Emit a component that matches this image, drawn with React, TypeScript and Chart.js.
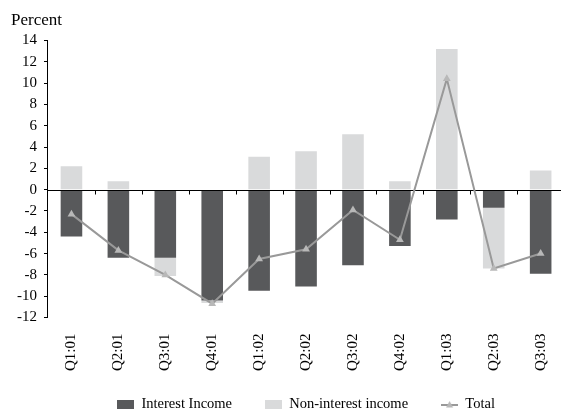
import React, { useEffect, useRef } from "react";
import { Chart, registerables } from "chart.js";

Chart.register(...registerables);

const categories = ["Q1:01", "Q2:01", "Q3:01", "Q4:01", "Q1:02", "Q2:02", "Q3:02", "Q4:02", "Q1:03", "Q2:03", "Q3:03"];
const interestIncome = [-4.4, -6.4, -6.4, -10.4, -9.5, -9.1, -7.1, -5.3, -2.8, -1.7, -7.9];
const nonInterestIncome = [2.2, 0.8, -1.7, -0.25, 3.1, 3.6, 5.2, 0.8, 13.2, -5.7, 1.8];
const total = [-2.3, -5.7, -8.0, -10.7, -6.5, -5.6, -1.9, -4.7, 10.4, -7.4, -6.0];
const seriesNames = ["Interest Income", "Non-interest income", "Total"];
const yTitle = "Percent";
const yMin = -12;
const yMax = 14;
const yStep = 2;

const W = 575;
const H = 440;
const FONT = "'Liberation Serif', 'Times New Roman', serif";
const DARK = "#58595b";
const LIGHT = "#d9dadb";
const LINE = "#999999";
const MARK = "#b8b8b8";

function makeBoxIcon(color: string) {
  const c = document.createElement("canvas");
  c.width = 17;
  c.height = 9;
  const x = c.getContext("2d")!;
  x.fillStyle = color;
  x.fillRect(0, 0, 17, 9);
  return c;
}

function makeLineIcon() {
  const c = document.createElement("canvas");
  c.width = 17;
  c.height = 9;
  const x = c.getContext("2d")!;
  x.strokeStyle = LINE;
  x.lineWidth = 2;
  x.beginPath();
  x.moveTo(0, 5);
  x.lineTo(17, 5);
  x.stroke();
  x.fillStyle = MARK;
  x.beginPath();
  x.moveTo(8.5, 1);
  x.lineTo(12, 7.5);
  x.lineTo(5, 7.5);
  x.closePath();
  x.fill();
  return c;
}

const zeroAxisPlugin = {
  id: "zeroAxis",
  afterLayout(chart: any) {
    const lg = chart.legend;
    if (lg) {
      lg.top -= 7.25;
      lg.bottom -= 7.25;
    }
  },
  beforeDatasetDraw(chart: any, args: any) {
    if (args.meta.type !== "line") return;
    const { ctx, chartArea } = chart;
    const ys = chart.scales.y;
    const xs = chart.scales.x;
    const y0 = Math.round(ys.getPixelForValue(0)) + 0.5;
    ctx.save();
    ctx.strokeStyle = "#000";
    ctx.lineWidth = 1;
    ctx.beginPath();
    ctx.moveTo(chartArea.left, y0);
    ctx.lineTo(chartArea.right, y0);
    const half = (xs.getPixelForTick(1) - xs.getPixelForTick(0)) / 2;
    for (let i = 0; i < categories.length; i++) {
      const bx = Math.round(xs.getPixelForTick(i) + half) + 0.5;
      ctx.moveTo(bx, y0);
      ctx.lineTo(bx, y0 + 4);
    }
    ctx.stroke();
    ctx.restore();
  },
  afterDraw(chart: any) {
    const { ctx } = chart;
    ctx.save();
    ctx.fillStyle = "#000";
    ctx.font = `17px ${FONT}`;
    ctx.textAlign = "left";
    ctx.textBaseline = "alphabetic";
    ctx.fillText(yTitle, 11, 25);
    ctx.restore();
  },
};

export default function App() {
  const ref = useRef<HTMLCanvasElement>(null);

  useEffect(() => {
    const canvas = ref.current!;
    const icons = [makeBoxIcon(DARK), makeBoxIcon(LIGHT), makeLineIcon()];
    const chart = new Chart(canvas, {
      type: "bar",
      data: {
        labels: categories,
        datasets: [
          {
            type: "bar",
            label: seriesNames[0],
            data: interestIncome,
            backgroundColor: DARK,
            borderWidth: 0,
            barPercentage: 0.46,
            categoryPercentage: 1,
            stack: "bars",
            order: 1,
          },
          {
            type: "bar",
            label: seriesNames[1],
            data: nonInterestIncome,
            backgroundColor: LIGHT,
            borderWidth: 0,
            barPercentage: 0.46,
            categoryPercentage: 1,
            stack: "bars",
            order: 1,
          },
          {
            type: "line",
            label: seriesNames[2],
            data: total,
            borderColor: LINE,
            borderWidth: 2,
            pointStyle: "triangle",
            pointRadius: 4.5,
            pointBackgroundColor: MARK,
            pointBorderColor: MARK,
            pointBorderWidth: 0,
            tension: 0,
            fill: false,
            stack: "total",
            order: 0,
          } as any,
        ],
      },
      options: {
        responsive: false,
        devicePixelRatio: 1,
        animation: false,
        events: [],
        layout: { padding: { left: 10, right: W - 567.5, top: 40.5, bottom: 11 } },
        scales: {
          x: {
            type: "category",
            stacked: true,
            offset: true,
            grid: { display: false, drawTicks: false },
            border: { display: false },
            ticks: {
              autoSkip: false,
              minRotation: 90,
              maxRotation: 90,
              padding: 16,
              color: "#000",
              font: { family: FONT, size: 15 },
            },
            afterFit: (s: any) => {
              s.height = 54;
            },
          },
          y: {
            stacked: true,
            min: yMin,
            max: yMax,
            ticks: {
              stepSize: yStep,
              padding: 7,
              color: "#000",
              font: { family: FONT, size: 15 },
            },
            grid: { drawOnChartArea: false, drawTicks: true, tickLength: 4, color: "#000" },
            border: { display: true, color: "#000", width: 1 },
          },
        },
        plugins: {
          title: { display: false },
          tooltip: { enabled: false },
          legend: {
            display: true,
            position: "bottom",
            fullSize: false,
            labels: {
              usePointStyle: true,
              pointStyleWidth: 17,
              boxHeight: 9,
              padding: 33,
              color: "#000",
              font: { family: FONT, size: 14.5 },
              generateLabels: (c: any) =>
                c.data.datasets.map((ds: any, i: number) => ({
                  text: ds.label,
                  pointStyle: icons[i],
                  fillStyle: "transparent",
                  strokeStyle: "transparent",
                  lineWidth: 0,
                  hidden: false,
                  datasetIndex: i,
                  fontColor: "#000",
                })),
            },
          },
        },
      },
      plugins: [zeroAxisPlugin],
    });
    return () => chart.destroy();
  }, []);

  return (
    <div style={{ position: "fixed", left: 0, top: 0, width: 561, height: 410, overflow: "hidden", background: "#fff" }}>
      <canvas ref={ref} width={W} height={H} style={{ display: "block", width: W, height: H }} />
    </div>
  );
}
